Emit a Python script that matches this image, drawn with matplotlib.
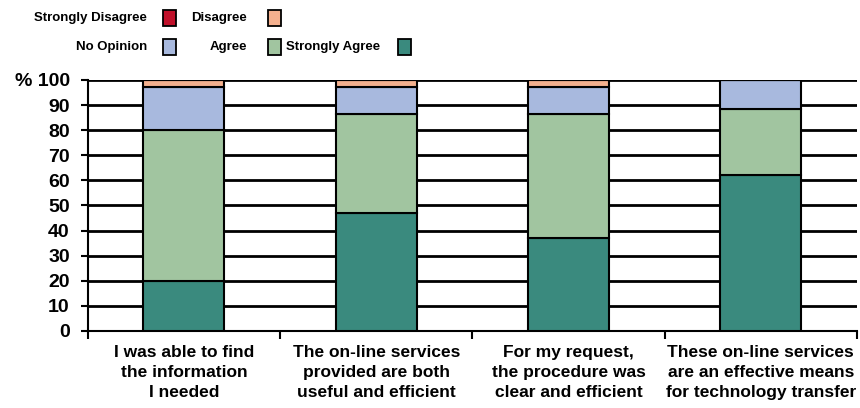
import matplotlib
matplotlib.use("Agg")
import matplotlib.pyplot as plt
from matplotlib.patches import Rectangle
import numpy as np

plt.rcParams['font.family'] = ['Liberation Sans', 'DejaVu Sans']
plt.rcParams['font.weight'] = 'bold'

questions = ["I was able to find\nthe information\nI needed",
             "The on-line services\nprovided are both\nuseful and efficient",
             "For my request,\nthe procedure was\nclear and efficient",
             "These on-line services\nare an effective means\nfor technology transfer"]
strongly_agree = [20, 47, 37, 62]
agree = [60, 39.5, 49.5, 26.5]
no_opinion = [17, 10.5, 10.5, 11.5]
disagree = [3, 3, 3, 0]
strongly_disagree = [0, 0, 0, 0]

series = [("Strongly Agree", strongly_agree, "#3a8a7e"),
          ("Agree", agree, "#a1c5a0"),
          ("No Opinion", no_opinion, "#a8b9de"),
          ("Disagree", disagree, "#f4b08e"),
          ("Strongly Disagree", strongly_disagree, "#c0102a")]
colors = {name: c for name, _, c in series}

fig = plt.figure(figsize=(8.6, 4.08), dpi=100)
ax = fig.add_axes([0.102, 0.189, 0.8945, 0.615])

x = np.arange(len(questions))
bottom = np.zeros(len(questions))
for name, vals, col in series:
    vals = np.array(vals, dtype=float)
    ax.bar(x, vals, 0.42, bottom=bottom, color=col, edgecolor="black",
           linewidth=1.5, zorder=3)
    bottom += vals

ax.set_ylim(0, 100)
ax.set_xlim(-0.5, len(questions) - 0.5)
ax.set_yticks(range(0, 101, 10))
ax.set_yticklabels([str(v) for v in range(0, 100, 10)] + ["% 100"], fontsize=14)
ax.yaxis.grid(True, color="black", linewidth=2, zorder=0)
ax.set_axisbelow(True)

ax.set_xticks(np.arange(-0.5, len(questions)), minor=False)
ax.set_xticklabels([])
ax.set_xticks(x, minor=True)
ax.set_xticklabels(questions, minor=True, fontsize=12.5, linespacing=1.42)
ax.tick_params(axis="x", which="minor", length=0, pad=10)
ax.tick_params(axis="x", which="major", length=6, width=1.5, direction="out")
ax.tick_params(axis="y", length=5, width=1.5, pad=8)
for s in ["top", "right"]:
    ax.spines[s].set_visible(False)
for s in ["left", "bottom"]:
    ax.spines[s].set_linewidth(1.5)

# legend, laid out like the original
legend_rows = [[("Strongly Disagree", 147, 163), ("Disagree", 247, 268)],
               [("No Opinion", 147, 163), ("Agree", 247, 268), ("Strongly Agree", 380, 398)]]
row_y = [18, 47]
W, H = 860, 408
for row, yc in zip(legend_rows, row_y):
    for name, tx, sx in row:
        fig.text(tx / W, 1 - yc / H, name, ha="right", va="center", fontsize=9.5)
        fig.patches.append(Rectangle((sx / W, 1 - (yc + 8) / H), 13 / W, 16 / H,
                                     transform=fig.transFigure, facecolor=colors[name],
                                     edgecolor="black", linewidth=1.3))

fig.savefig("out.png", dpi=100)
